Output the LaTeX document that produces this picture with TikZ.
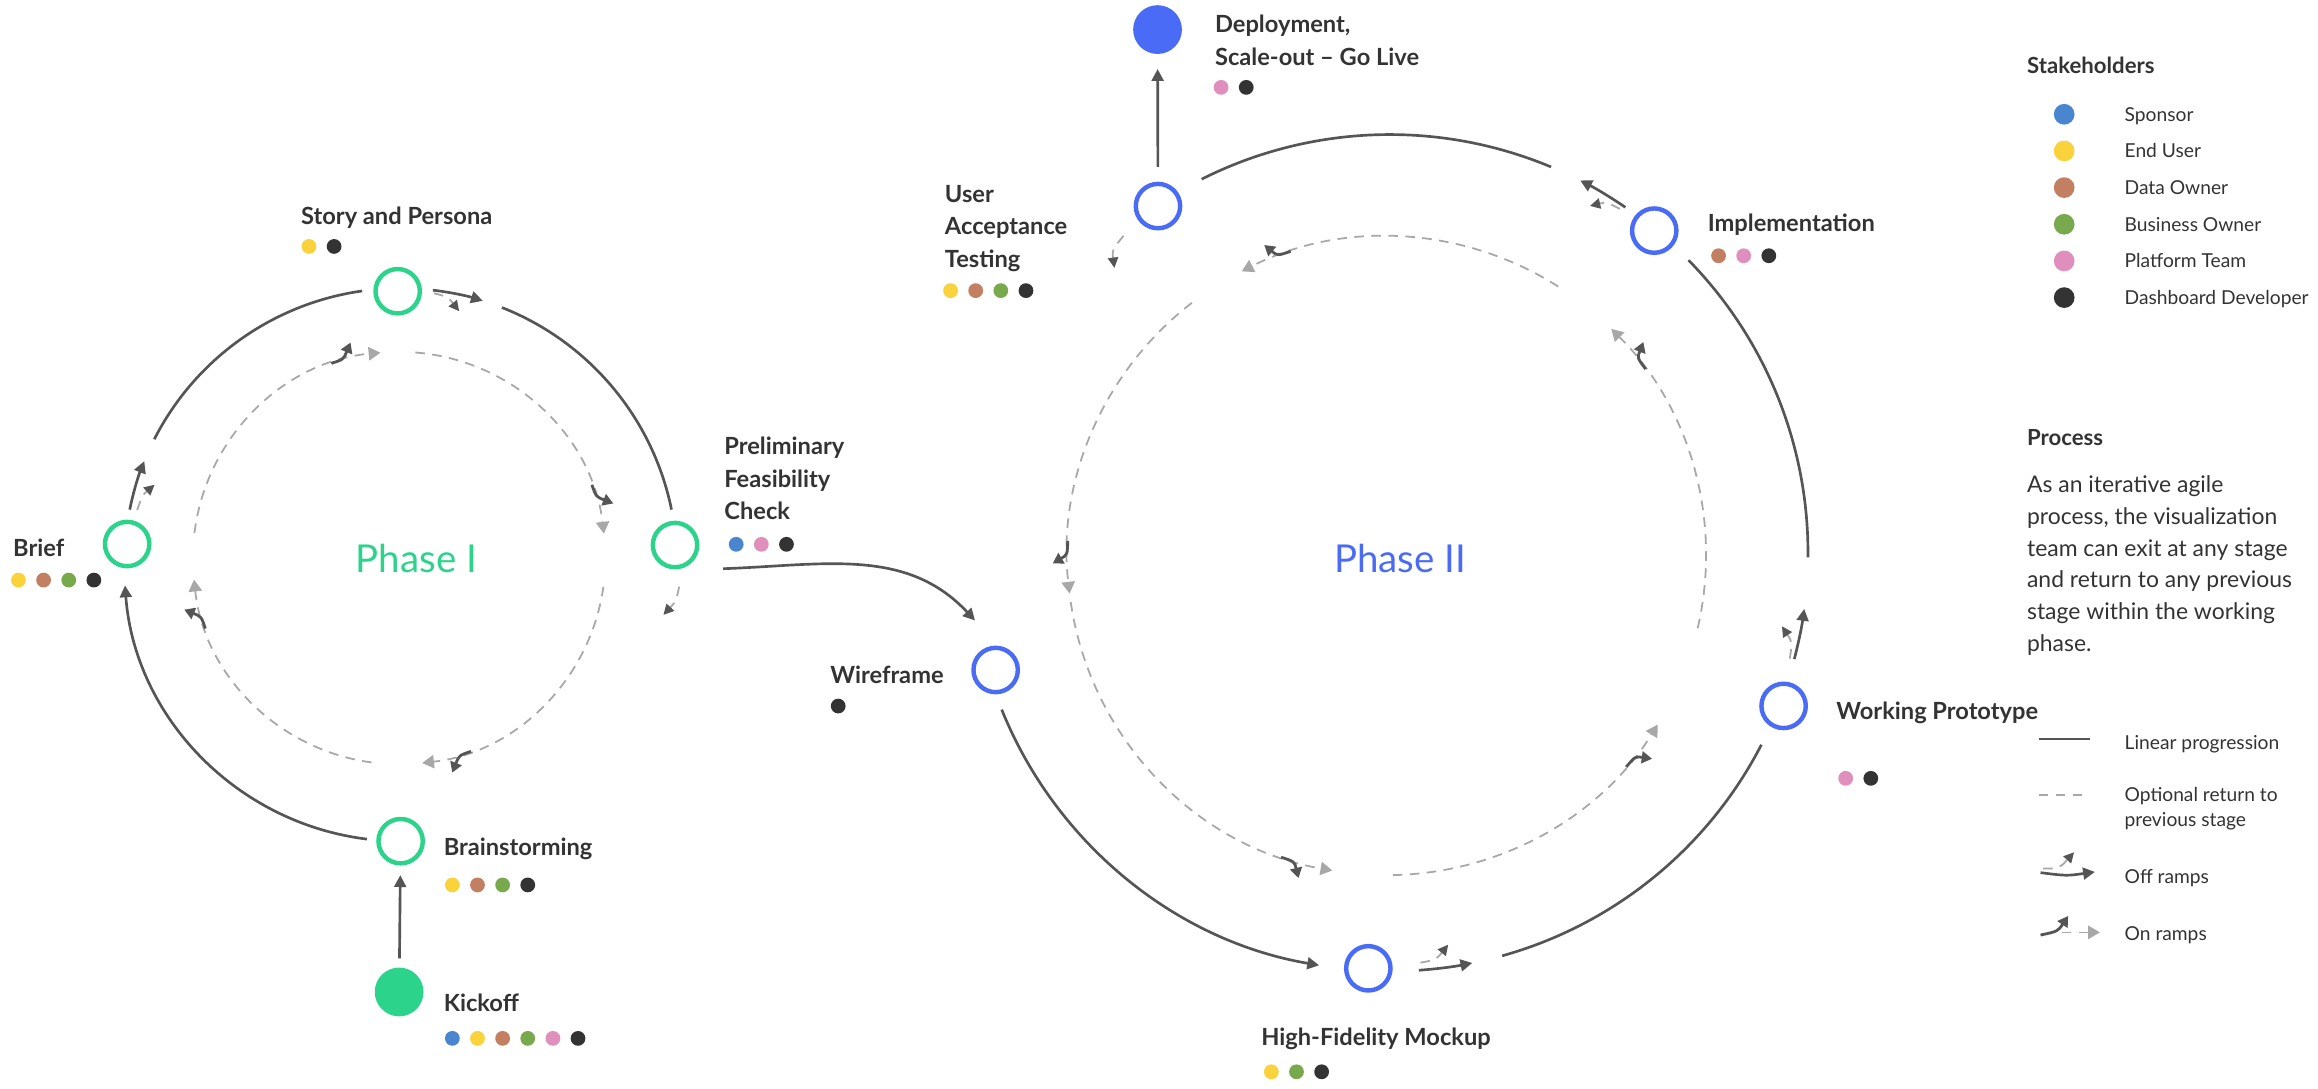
\documentclass[tikz,border=0pt]{standalone}
\usepackage{fontspec}
\setmainfont{Lato}
\usetikzlibrary{arrows.meta}

\definecolor{phaseI}{HTML}{2BD48A}
\definecolor{phaseII}{HTML}{4A6BF6}
\definecolor{ink}{HTML}{333333}
\definecolor{trackgray}{HTML}{555555}
\definecolor{ghost}{HTML}{A8A8A8}
\definecolor{sponsor}{HTML}{4A86CF}
\definecolor{enduser}{HTML}{F9D23C}
\definecolor{dataowner}{HTML}{C27F62}
\definecolor{bizowner}{HTML}{78A94C}
\definecolor{platform}{HTML}{E08FBD}
\definecolor{devcolor}{HTML}{333333}

\tikzset{
  ringI/.style={circle,draw=phaseI,line width=3pt,minimum size=30pt,inner sep=0pt},
  ringII/.style={ringI,draw=phaseII},
  dotI/.style={circle,fill=phaseI,minimum size=33pt,inner sep=0pt},
  dotII/.style={dotI,fill=phaseII},
  linear/.style={draw=trackgray,line width=1.8pt},
  flow/.style={linear,-{Triangle[length=8pt,width=8pt]}},
  back/.style={draw=ghost,line width=1.2pt,dash pattern=on 6.5pt off 5pt},
  backtip/.style={back,-{Triangle[length=8pt,width=9pt]}},
  offramp/.style={back,-{Triangle[length=7pt,width=7pt,color=trackgray]}},
  onramp/.style={draw=trackgray,line width=1.9pt,-{Triangle[length=7pt,width=8pt]}},
  lbl/.style={anchor=west,text=ink,inner sep=0pt,text height=11.5pt,text depth=0pt,
    font=\bfseries\fontsize{16}{22}\selectfont},
  mlbl/.style={anchor=west,text=ink,inner sep=0pt,align=left,
    font=\bfseries\fontsize{16}{22}\selectfont},
  head/.style={anchor=west,text=ink,inner sep=0pt,text height=10.8pt,text depth=0pt,
    font=\bfseries\fontsize{15}{18}\selectfont},
  key/.style={anchor=west,text=ink,inner sep=0pt,text height=9.4pt,text depth=0pt,
    font=\fontsize{13}{17}\selectfont},
  keyml/.style={anchor=west,text=ink,inner sep=0pt,align=left,
    font=\fontsize{13}{17}\selectfont},
  para/.style={anchor=west,text=ink,inner sep=0pt,align=left,
    font=\fontsize{15.5}{21.5}\selectfont},
  phase/.style={font=\fontsize{26}{30}\selectfont,inner sep=0pt}
}

% stakeholder dots below a stage label
\newcommand{\stake}[3]{%
  \foreach \c [count=\i from 0] in {#3}
    \fill[\c] (#1+17*\i,-#2) circle[radius=5pt];}

\begin{document}
\begin{tikzpicture}[x=1pt,y=1pt]
\useasboundingbox (0,0) rectangle (1568,-736);

% Phase I stages
\node[dotI] (kick) at (270,-671) {};
\node[ringI] (brain) at (271,-569) {};
\node[ringI] (brief) at (86,-368) {};
\node[ringI] (story) at (269,-197) {};
\node[ringI] (feas) at (456.6,-368.7) {};
\node[phase,text=phaseI] (phI) at (281.7,-378) {Phase I};

% Phase II stages
\node[ringII] (wire) at (673.5,-453.2) {};
\node[ringII] (hfm) at (925.6,-655) {};
\node[ringII] (proto) at (1206.5,-477.5) {};
\node[ringII] (impl) at (1119,-156) {};
\node[ringII] (uat) at (783.3,-139.4) {};
\node[dotII] (deploy) at (783,-20) {};
\node[phase,text=phaseII] (phII) at (947,-378) {Phase II};

% labels and stakeholders
\node[lbl] (kick-l) at (300,-678.7) {Kickoff};
\stake{306}{702.4}{sponsor,enduser,dataowner,bizowner,platform,devcolor}
\node[lbl] (brain-l) at (300,-572.7) {Brainstorming};
\stake{306}{598.6}{enduser,dataowner,bizowner,devcolor}
\node[lbl] (brief-l) at (8.7,-371) {Brief};
\stake{12.5}{392.4}{enduser,dataowner,bizowner,devcolor}
\node[lbl] (story-l) at (203.5,-146) {Story and Persona};
\stake{209}{166.7}{enduser,devcolor}
\node[mlbl] (feas-l) at (489.8,-323.6) {Preliminary\\Feasibility\\Check};
\stake{498}{368.2}{sponsor,platform,devcolor}
\node[lbl] (wire-l) at (561.5,-456.6) {Wireframe};
\stake{567}{477.6}{devcolor}
\node[lbl] (hfm-l) at (853,-701.5) {High-Fidelity Mockup};
\stake{860}{725}{enduser,bizowner,devcolor}
\node[lbl] (proto-l) at (1242,-481) {Working Prototype};
\stake{1248.5}{526.5}{platform,devcolor}
\node[lbl] (impl-l) at (1155,-151) {Implementation};
\stake{1162.5}{173}{dataowner,platform,devcolor}
\node[mlbl] (uat-l) at (639,-154.5) {User\\Acceptance\\Testing};
\stake{643}{196.6}{enduser,dataowner,bizowner,devcolor}
\node[mlbl] (deploy-l) at (821.7,-27.4) {Deployment,\\Scale-out -- Go Live};
\stake{826}{59.1}{platform,devcolor}

% straight and crossing links
\draw[flow,shorten <=6pt,shorten >=6.5pt] (kick) -- (brain);
\draw[flow,shorten <=10pt,shorten >=10pt] (uat) -- (deploy);
\draw[flow] ([shift={(16pt,-16pt)}]feas.east) to[out=2,in=133] ([shift={(-14pt,17pt)}]wire.north);

% Phase I outer track
\coordinate (hubI) at (271,-382);
\begin{scope}[shift={(hubI)}]
  \draw[flow] (263:187pt) arc[start angle=263,end angle=184.3,radius=187pt];
  \foreach \a/\b in {153/98,68.5/11.5}
    \draw[linear] (\a:187pt) arc[start angle=\a,end angle=\b,radius=187pt];
  \foreach \a/\b in {168.5/158,83.3/72.7}
    \draw[flow] (\a:187pt) arc[start angle=\a,end angle=\b,radius=187pt];
  \draw[offramp] (168.3:182pt) .. controls (165:181pt) .. (162:175pt);
  \draw[offramp] (83:185pt) .. controls (80:184pt) .. (77:176pt);
  \draw[offramp] (-4.5:189pt) .. controls (-7.5:188pt) .. (-10.8:181pt);
\end{scope}

% Phase I return loop
\coordinate (loopI) at (270,-377.5);
\begin{scope}[shift={(loopI)}]
  \foreach \s/\e in {173/95.2,85.5/6.8,-8/-83.6,-97.7/-174}{
    \draw[backtip] (\s:139.5pt) arc[start angle=\s,end angle=\e,radius=139.5pt];
    \draw[onramp] (\e+14:139.5pt) .. controls (\e+10.5:139.5pt) .. (\e+7.5:149.5pt);
  }
\end{scope}

% Phase II outer track
\coordinate (hubII) at (940,-374);
\begin{scope}[shift={(hubII)}]
  \draw[flow] (202:283pt) arc[start angle=202,end angle=260.3,radius=283pt];
  \foreach \a/\b in {285.6/332.7,359.4/404.4,67.3/116.7}
    \draw[linear] (\a:283pt) arc[start angle=\a,end angle=\b,radius=283pt];
  \foreach \a/\b in {274/281.4,345.3/352.3,55.7/62.9}
    \draw[flow] (\a:283pt) arc[start angle=\a,end angle=\b,radius=283pt];
  \draw[offramp] (274.3:278pt) .. controls (276.5:277pt) .. (278.5:268pt);
  \draw[offramp] (345.2:280pt) .. controls (347.5:279pt) .. (349.4:270pt);
  \draw[offramp] (56.2:280pt) .. controls (58.3:279pt) .. (60:271pt);
  \draw[offramp] (130:280pt) .. controls (132.5:278pt) .. (134:268pt);
\end{scope}

% Phase II return loop
\coordinate (loopII) at (938,-376);
\begin{scope}[shift={(loopII)}]
  \foreach \s/\e in {57.5/117,127.6/186.8,188.3/260.2,271.1/328.1,346.9/405.3}{
    \draw[backtip] (\s:216pt) arc[start angle=\s,end angle=\e,radius=216pt];
    \draw[onramp] (\e-9.5:216pt) .. controls (\e-7:216pt) .. (\e-5.5:226pt);
  }
\end{scope}

% legend: stakeholders
\node[head] (stake-h) at (1371,-44) {Stakeholders};
\foreach \c/\t [count=\i from 0] in {sponsor/Sponsor,enduser/End User,dataowner/Data Owner,
    bizowner/Business Owner,platform/Platform Team,devcolor/Dashboard Developer}{
  \fill[\c] (1396.3,-77.3-24.8*\i) circle[radius=7pt];
  \node[key] (role\i) at (1437,-77.3-24.8*\i) {\t};
}

% legend: process
\node[head] (proc-h) at (1371,-296) {Process};
\node[para] (proc-t) at (1371,-382.5) {As an iterative agile\\process, the visualization\\team can exit at any stage\\and return to any previous\\stage within the working\\phase.};

% legend: line styles
\draw[linear] (1379,-500) -- (1413.7,-500);
\node[key] (k-lin) at (1437,-502.4) {Linear progression};
\draw[back] (1379,-537.8) -- (1411.5,-537.8);
\node[keyml] (k-opt) at (1437,-547.3) {Optional return to\\previous stage};
\draw[offramp] (1382,-587.5) .. controls (1393,-587.5) .. (1403,-576.5);
\draw[flow] (1380.3,-590.3) .. controls (1398,-592.5) .. (1417.1,-589.8);
\node[key] (k-off) at (1437,-593) {Off ramps};
\draw[onramp] (1380.3,-632.5) .. controls (1392,-630) .. (1399,-619.6);
\draw[backtip] (1394.5,-630.7) -- (1420.5,-630.7);
\node[key] (k-on) at (1437,-631.4) {On ramps};
\end{tikzpicture}
\end{document}
